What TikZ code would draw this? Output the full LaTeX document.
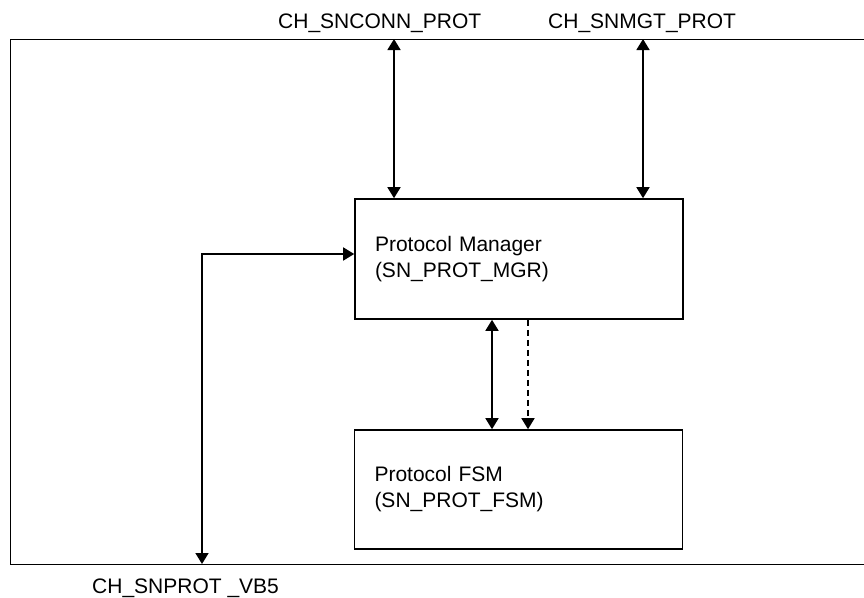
\documentclass[tikz,border=0pt]{standalone}
\usepackage{fontspec}
\setmainfont{Liberation Sans}
\usepackage{tikz}
\usetikzlibrary{arrows.meta, positioning, calc}

\begin{document}
\begin{tikzpicture}[x=1pt, y=-1pt,
    font=\fontsize{21}{26}\selectfont,
    blk/.style={draw, line width=1.6pt, minimum width=328pt, minimum height=120pt,
      inner xsep=20pt, text width=288pt, align=left},
    lnk/.style={line width=1.6pt, >={Triangle[width=13pt,length=11pt]}},
    lbl/.style={anchor=base west, inner sep=0pt}]
    \useasboundingbox (0,0) rectangle (864,597);

    \draw[line width=1pt] (10,39) rectangle (880,564);

    \node[blk] (mgr) at (519,259) {Protocol Manager\\(SN\_PROT\_MGR)};
    \node[blk, minimum height=119pt, minimum width=327pt] (fsm) at (518.5,489.5) {Protocol FSM\\(SN\_PROT\_FSM)};

    \coordinate (conn) at (394,39);
    \coordinate (mgt) at (643,39);
    \coordinate (vb) at (202,564);

    \node[lbl] (lconn) at (278,28) {CH\_SNCONN\_PROT};
    \node[lbl] (lmgt) at (548,28) {CH\_SNMGT\_PROT};
    \node[lbl] (lvb) at (92,593) {CH\_SNPROT \_VB5};

    \draw[lnk, <->] (conn) -- (conn |- mgr.north);
    \draw[lnk, <->] (mgt) -- (mgt |- mgr.north);
    \draw[lnk, <->] (vb) |- ([yshift=5pt]mgr.west);
    \draw[lnk, <->] ([xshift=-27pt]mgr.south) -- ([xshift=-27pt]mgr.south |- fsm.north);
    \draw[lnk, ->, dash pattern=on 6pt off 4pt] ([xshift=9pt]mgr.south) -- ([xshift=9pt]mgr.south |- fsm.north);
  \end{tikzpicture}
\end{document}
